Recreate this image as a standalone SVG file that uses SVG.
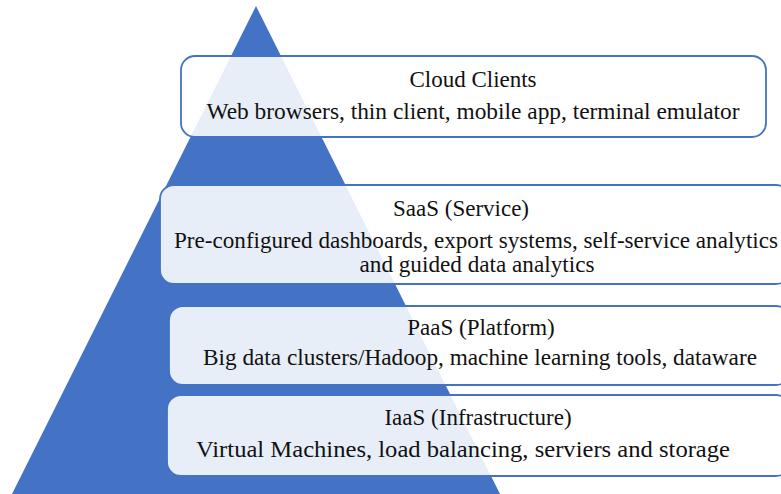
<svg xmlns="http://www.w3.org/2000/svg" width="781" height="494" viewBox="0 0 781 494">
<style>
.box{fill:#ffffff;fill-opacity:0.88;stroke:#4472C4;stroke-width:1.8}
.t{font-family:"Liberation Serif","Times New Roman",serif;font-size:23px;fill:#111;text-anchor:middle}
</style>
<rect width="781" height="494" fill="#ffffff"/>
<polygon id="pyramid" points="256,6 500,494 12,494" fill="#4472C4"/>
<g id="cloud-clients">
<rect class="box" x="181" y="56" width="585" height="81" rx="14"/>
<text class="t" x="473" y="87">Cloud Clients</text>
<text class="t" x="473" y="119" textLength="533" lengthAdjust="spacingAndGlyphs">Web browsers, thin client, mobile app, terminal emulator</text>
</g>
<g id="saas">
<rect class="box" x="160" y="185" width="630" height="99" rx="14"/>
<text class="t" x="461" y="216">SaaS (Service)</text>
<text class="t" x="476" y="248" textLength="604" lengthAdjust="spacingAndGlyphs">Pre-configured dashboards, export systems, self-service analytics</text>
<text class="t" x="477" y="272" textLength="235" lengthAdjust="spacingAndGlyphs">and guided data analytics</text>
</g>
<g id="paas">
<rect class="box" x="169" y="306" width="621" height="79" rx="14"/>
<text class="t" x="481" y="335">PaaS (Platform)</text>
<text class="t" x="480" y="365" textLength="554" lengthAdjust="spacingAndGlyphs">Big data clusters/Hadoop, machine learning tools, dataware</text>
</g>
<g id="iaas">
<rect class="box" x="167" y="395" width="623" height="81" rx="14"/>
<text class="t" x="478" y="425">IaaS (Infrastructure)</text>
<text class="t" x="463" y="457" textLength="534" lengthAdjust="spacingAndGlyphs">Virtual Machines, load balancing, serviers and storage</text>
</g>
<g id="connectors"></g>
</svg>
